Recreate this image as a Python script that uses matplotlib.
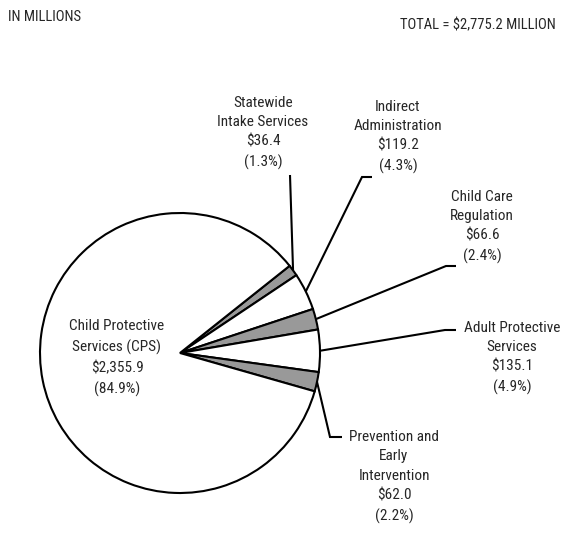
import numpy as np
import matplotlib
matplotlib.use("Agg")
import matplotlib.pyplot as plt
from matplotlib import font_manager

# ---- data ----
categories = ["Statewide\nIntake Services", "Indirect\nAdministration", "Child Care\nRegulation",
              "Adult Protective\nServices", "Prevention and\nEarly\nIntervention",
              "Child Protective\nServices (CPS)"]
values = [36.4, 119.2, 66.6, 135.1, 62.0, 2355.9]
value_labels = ["$36.4", "$119.2", "$66.6", "$135.1", "$62.0", "$2,355.9"]
pct_labels = ["(1.3%)", "(4.3%)", "(2.4%)", "(4.9%)", "(2.2%)", "(84.9%)"]
colors = ["#999999", "white", "#999999", "white", "#999999", "white"]

# ---- font ----
names = {f.name for f in font_manager.fontManager.ttflist}
fam = None
for cand in ["Liberation Sans Narrow", "Roboto Condensed", "Open Sans Condensed", "DejaVu Sans"]:
    if cand in names:
        fam = cand
        break
stretch = "normal"
if fam == "DejaVu Sans":
    stretch = "condensed"
plt.rcParams['font.family'] = [fam, 'DejaVu Sans']

W, H = 562, 534
fig = plt.figure(figsize=(W / 100, H / 100), dpi=100)
ax = fig.add_axes([0, 0, 1, 1])
ax.set_xlim(0, W)
ax.set_ylim(0, H)
ax.set_aspect('equal')
ax.axis('off')

def Y(py):
    return H - py

cx, cy, r = 180, Y(353), 140
wedges, _ = ax.pie(values, colors=colors, startangle=38.5, counterclock=False,
                   center=(cx, cy), radius=r, frame=True,
                   wedgeprops=dict(edgecolor='black', linewidth=1.5))
ax.set_xlim(0, W)
ax.set_ylim(0, H)
ax.axis('off')

txtc = "#262626"
fs = 11
ls = 1.52

# label block centers (pixel coords) and leader elbows
label_pos = [(263, 133), (398, 137), (482, 227), (512, 358), (394, 477), (117, 358)]
leaders = [
    [(290, 175), (290, 175)],
    [(362, 177), (372, 177)],
    [(446, 266), (456, 266)],
    [(445, 330), (456, 330)],
    [(330, 437), (342, 437)],
    None,
]

for i, w in enumerate(wedges):
    text = f"{categories[i]}\n{value_labels[i]}\n{pct_labels[i]}"
    lx, ly = label_pos[i]
    ax.text(lx, Y(ly), text, ha='center', va='center', fontsize=fs, color=txtc,
            linespacing=ls, fontstretch=stretch)
    if leaders[i] is not None:
        ang = np.deg2rad((w.theta1 + w.theta2) / 2)
        sx, sy = cx + r * np.cos(ang), cy + r * np.sin(ang)
        xs = [sx] + [p[0] for p in leaders[i]]
        ys = [sy] + [Y(p[1]) for p in leaders[i]]
        ax.plot(xs, ys, color='black', lw=1.5, solid_capstyle='butt', solid_joinstyle='miter')

ax.text(8, Y(17), "IN MILLIONS", ha='left', va='center', fontsize=10.5, color=txtc,
        fontstretch=stretch)
ax.text(556, Y(25), "TOTAL = $2,775.2 MILLION", ha='right', va='center', fontsize=10.5,
        color=txtc, fontstretch=stretch)

fig.savefig("out.png", dpi=100, facecolor='white')
